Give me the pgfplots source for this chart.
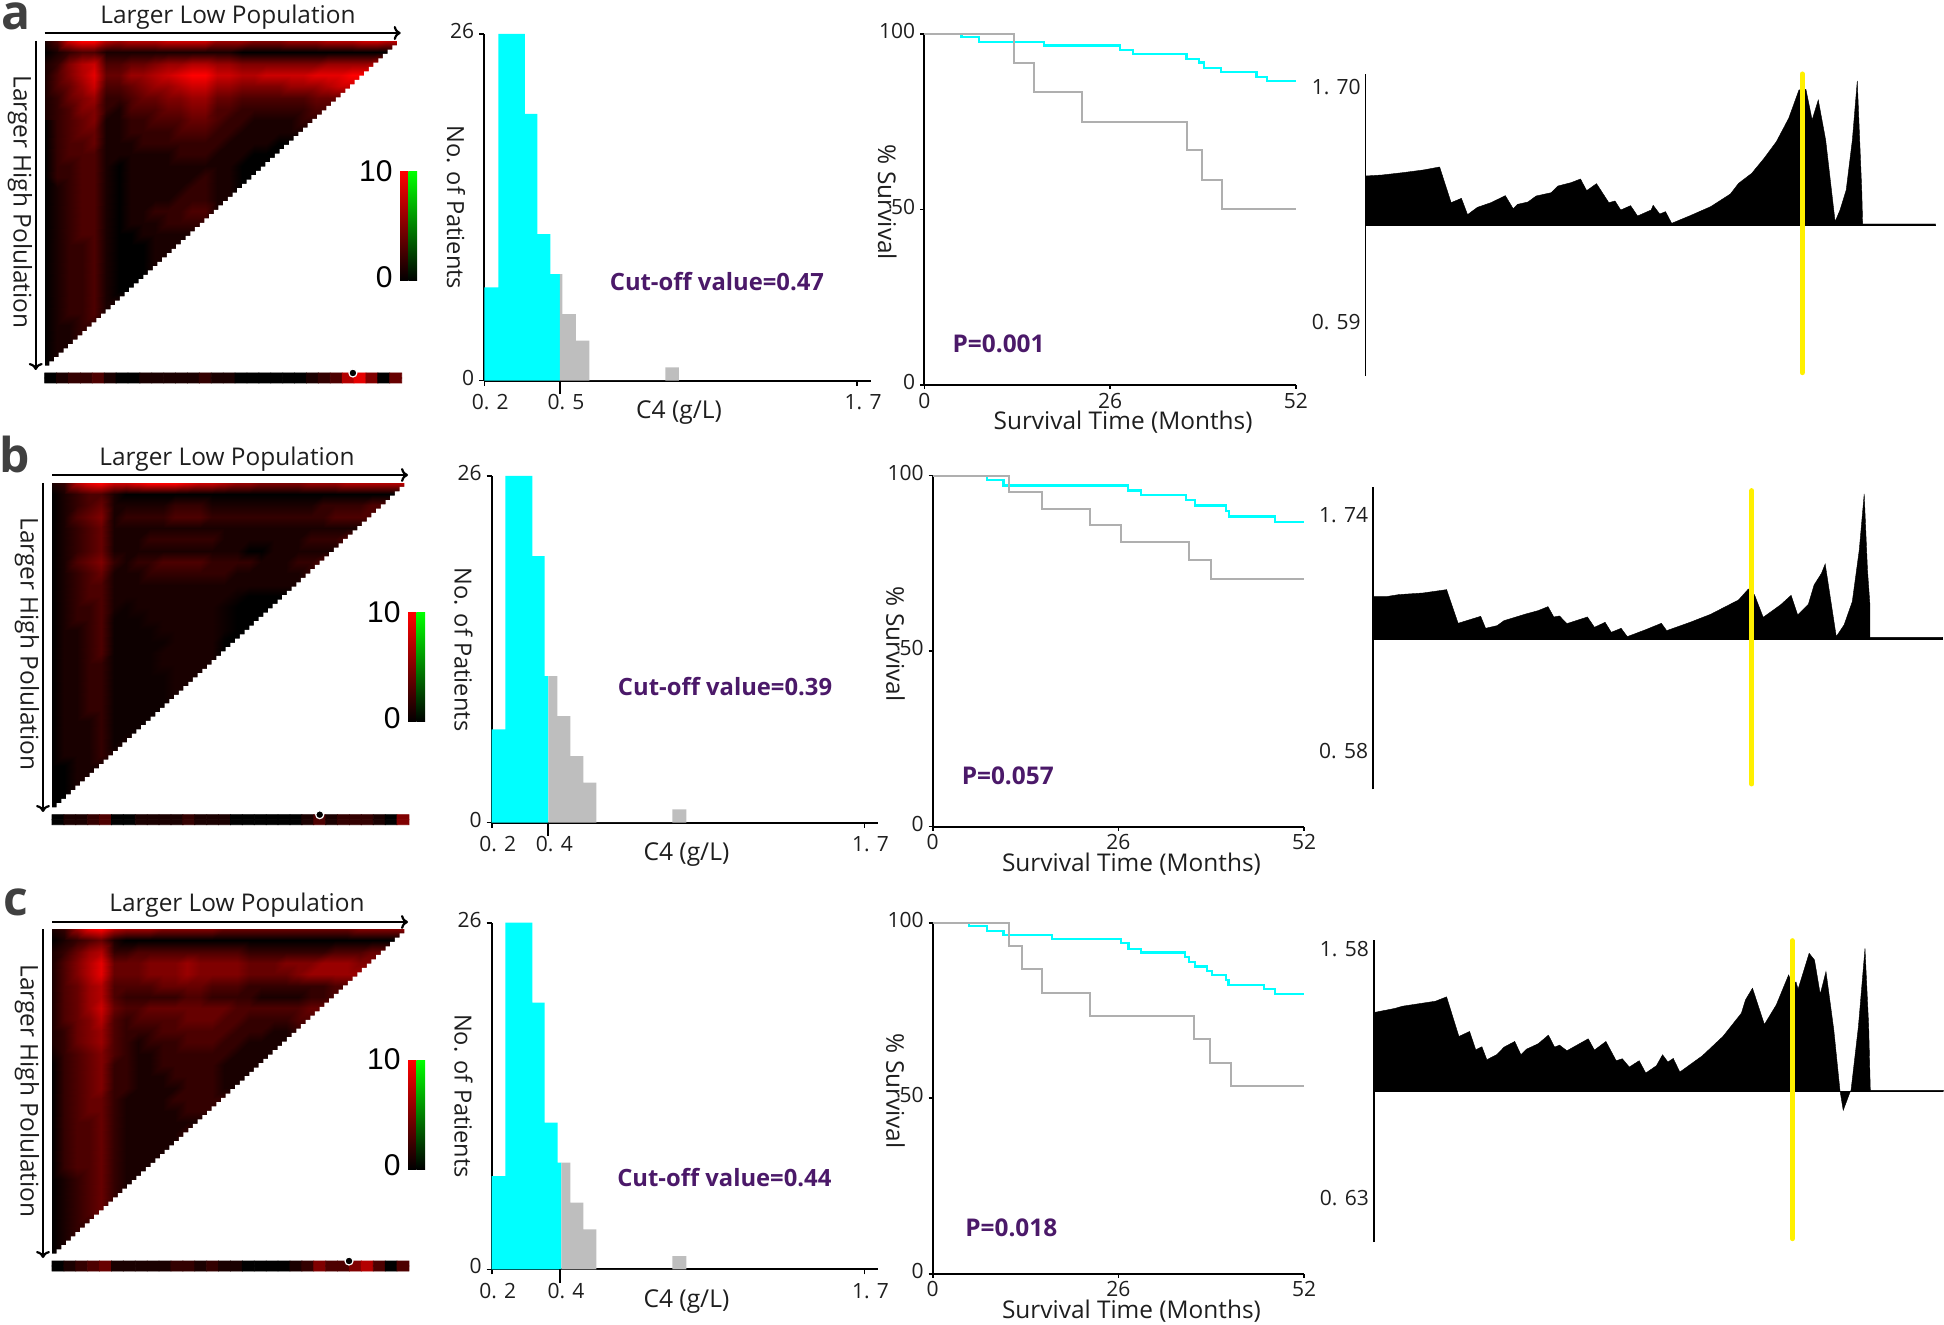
\documentclass[border=0pt]{standalone}
\usepackage{fontspec}
\usepackage{pgfplots}
\usepackage{pgfplotstable}
\pgfplotsset{compat=1.18}
\usetikzlibrary{arrows.meta}
\setmainfont{Open Sans}
\newfontfamily\armo{Liberation Sans}
\definecolor{purp}{RGB}{75,25,105}
\definecolor{cyanb}{RGB}{0,255,255}
\definecolor{greyb}{RGB}{190,190,190}
\definecolor{kmgrey}{RGB}{175,175,175}
\definecolor{yel}{RGB}{255,240,0}
\definecolor{ink}{RGB}{30,30,30}
\pgfplotsset{colormap={blackred}{rgb255=(0,0,0) rgb255=(255,0,0)}}
\newcommand{\tf}{\fontsize{10.5}{12}\selectfont}
\newcommand{\fsz}[1]{\fontsize{#1}{#1}\selectfont}

% heat maps: 30 x 30 cells, row by row
\pgfplotstableread[row sep=crcr,header=false]{
1\\3\\8\\10\\10\\ 7\\6\\7\\7\\7\\ 8\\8\\8\\8\\6\\ 6\\6\\5\\5\\5\\ 6\\6\\6\\7\\7\\ 7\\8\\8\\7\\8\\
0\\1\\2\\3\\3\\ 1\\1\\1\\1\\1\\ 1\\1\\1\\1\\1\\ 1\\0\\0\\0\\0\\ 0\\0\\0\\0\\0\\ 0\\0\\0\\0\\0\\
1\\2\\5\\7\\8\\ 3\\3\\4\\4\\5\\ 6\\6\\7\\7\\6\\ 6\\5\\5\\5\\5\\ 5\\5\\5\\6\\6\\ 6\\6\\7\\0\\0\\
1\\3\\5\\7\\9\\ 4\\4\\6\\6\\7\\ 8\\9\\10\\10\\8\\ 8\\7\\7\\8\\8\\ 8\\8\\9\\9\\9\\ 10\\10\\0\\0\\0\\
1\\3\\4\\6\\8\\ 3\\3\\4\\5\\6\\ 6\\7\\8\\8\\6\\ 6\\5\\5\\5\\5\\ 6\\6\\6\\7\\8\\ 8\\0\\0\\0\\0\\
1\\2\\4\\5\\6\\ 2\\2\\3\\4\\4\\ 5\\5\\6\\6\\4\\ 4\\3\\3\\3\\3\\ 3\\3\\4\\4\\4\\ 0\\0\\0\\0\\0\\
1\\2\\3\\5\\5\\ 2\\1\\3\\3\\3\\ 4\\4\\5\\5\\3\\ 3\\2\\2\\2\\2\\ 2\\2\\3\\3\\0\\ 0\\0\\0\\0\\0\\
1\\2\\3\\4\\5\\ 1\\1\\2\\2\\3\\ 3\\3\\4\\4\\3\\ 2\\2\\1\\1\\1\\ 1\\2\\2\\0\\0\\ 0\\0\\0\\0\\0\\
0\\2\\3\\4\\4\\ 1\\1\\2\\2\\2\\ 2\\3\\3\\3\\2\\ 2\\1\\1\\1\\1\\ 1\\1\\0\\0\\0\\ 0\\0\\0\\0\\0\\
0\\2\\3\\3\\4\\ 1\\1\\1\\2\\2\\ 2\\2\\2\\2\\2\\ 1\\1\\1\\1\\0\\ 0\\0\\0\\0\\0\\ 0\\0\\0\\0\\0\\
0\\2\\3\\3\\3\\ 1\\1\\1\\1\\1\\ 1\\2\\2\\2\\1\\ 1\\1\\0\\0\\0\\ 0\\0\\0\\0\\0\\ 0\\0\\0\\0\\0\\
0\\2\\2\\3\\3\\ 1\\0\\1\\1\\1\\ 1\\1\\1\\1\\1\\ 1\\0\\0\\0\\0\\ 0\\0\\0\\0\\0\\ 0\\0\\0\\0\\0\\
0\\2\\2\\3\\3\\ 1\\0\\1\\1\\1\\ 1\\1\\1\\2\\1\\ 1\\0\\0\\0\\0\\ 0\\0\\0\\0\\0\\ 0\\0\\0\\0\\0\\
0\\1\\2\\3\\3\\ 1\\0\\1\\1\\1\\ 1\\1\\2\\2\\1\\ 1\\0\\0\\0\\0\\ 0\\0\\0\\0\\0\\ 0\\0\\0\\0\\0\\
0\\1\\2\\3\\3\\ 1\\0\\1\\1\\1\\ 1\\2\\2\\2\\1\\ 1\\0\\0\\0\\0\\ 0\\0\\0\\0\\0\\ 0\\0\\0\\0\\0\\
0\\1\\2\\3\\3\\ 1\\0\\1\\1\\2\\ 2\\2\\3\\3\\1\\ 0\\0\\0\\0\\0\\ 0\\0\\0\\0\\0\\ 0\\0\\0\\0\\0\\
0\\1\\2\\3\\3\\ 1\\0\\1\\1\\1\\ 2\\2\\2\\2\\0\\ 0\\0\\0\\0\\0\\ 0\\0\\0\\0\\0\\ 0\\0\\0\\0\\0\\
0\\1\\2\\3\\3\\ 1\\0\\0\\1\\1\\ 1\\1\\1\\0\\0\\ 0\\0\\0\\0\\0\\ 0\\0\\0\\0\\0\\ 0\\0\\0\\0\\0\\
0\\1\\2\\2\\3\\ 1\\0\\0\\0\\1\\ 1\\1\\0\\0\\0\\ 0\\0\\0\\0\\0\\ 0\\0\\0\\0\\0\\ 0\\0\\0\\0\\0\\
0\\1\\2\\2\\3\\ 1\\0\\0\\0\\1\\ 1\\0\\0\\0\\0\\ 0\\0\\0\\0\\0\\ 0\\0\\0\\0\\0\\ 0\\0\\0\\0\\0\\
0\\1\\2\\2\\3\\ 1\\0\\0\\0\\1\\ 0\\0\\0\\0\\0\\ 0\\0\\0\\0\\0\\ 0\\0\\0\\0\\0\\ 0\\0\\0\\0\\0\\
0\\1\\2\\2\\3\\ 1\\0\\0\\0\\0\\ 0\\0\\0\\0\\0\\ 0\\0\\0\\0\\0\\ 0\\0\\0\\0\\0\\ 0\\0\\0\\0\\0\\
0\\1\\2\\2\\3\\ 1\\0\\0\\0\\0\\ 0\\0\\0\\0\\0\\ 0\\0\\0\\0\\0\\ 0\\0\\0\\0\\0\\ 0\\0\\0\\0\\0\\
0\\1\\2\\2\\3\\ 1\\1\\0\\0\\0\\ 0\\0\\0\\0\\0\\ 0\\0\\0\\0\\0\\ 0\\0\\0\\0\\0\\ 0\\0\\0\\0\\0\\
0\\1\\2\\2\\3\\ 1\\0\\0\\0\\0\\ 0\\0\\0\\0\\0\\ 0\\0\\0\\0\\0\\ 0\\0\\0\\0\\0\\ 0\\0\\0\\0\\0\\
0\\1\\1\\2\\2\\ 0\\0\\0\\0\\0\\ 0\\0\\0\\0\\0\\ 0\\0\\0\\0\\0\\ 0\\0\\0\\0\\0\\ 0\\0\\0\\0\\0\\
0\\1\\1\\2\\0\\ 0\\0\\0\\0\\0\\ 0\\0\\0\\0\\0\\ 0\\0\\0\\0\\0\\ 0\\0\\0\\0\\0\\ 0\\0\\0\\0\\0\\
0\\1\\1\\0\\0\\ 0\\0\\0\\0\\0\\ 0\\0\\0\\0\\0\\ 0\\0\\0\\0\\0\\ 0\\0\\0\\0\\0\\ 0\\0\\0\\0\\0\\
0\\1\\0\\0\\0\\ 0\\0\\0\\0\\0\\ 0\\0\\0\\0\\0\\ 0\\0\\0\\0\\0\\ 0\\0\\0\\0\\0\\ 0\\0\\0\\0\\0\\
0\\0\\0\\0\\0\\ 0\\0\\0\\0\\0\\ 0\\0\\0\\0\\0\\ 0\\0\\0\\0\\0\\ 0\\0\\0\\0\\0\\ 0\\0\\0\\0\\0\\
}\hmA
\pgfplotstableread[row sep=crcr,header=false]{
1\\2\\7\\9\\10\\ 8\\8\\9\\10\\10\\ 10\\9\\8\\8\\7\\ 6\\6\\5\\5\\5\\ 5\\6\\6\\6\\7\\ 7\\7\\7\\7\\8\\
0\\1\\2\\3\\3\\ 1\\0\\0\\0\\0\\ 0\\0\\0\\0\\0\\ 0\\0\\0\\0\\0\\ 0\\0\\0\\0\\0\\ 0\\0\\0\\0\\0\\
0\\1\\2\\3\\4\\ 1\\1\\1\\1\\1\\ 2\\2\\2\\1\\1\\ 1\\1\\1\\1\\1\\ 1\\1\\2\\2\\2\\ 2\\3\\3\\0\\0\\
0\\1\\3\\4\\5\\ 1\\2\\2\\2\\2\\ 3\\3\\3\\2\\2\\ 2\\2\\2\\2\\2\\ 2\\2\\2\\3\\3\\ 3\\3\\0\\0\\0\\
0\\1\\2\\3\\4\\ 1\\1\\1\\1\\1\\ 1\\1\\1\\1\\1\\ 1\\1\\1\\1\\1\\ 1\\1\\1\\1\\1\\ 1\\0\\0\\0\\0\\
0\\1\\2\\3\\4\\ 1\\1\\1\\2\\2\\ 2\\2\\2\\2\\1\\ 1\\1\\1\\1\\1\\ 1\\2\\2\\2\\3\\ 0\\0\\0\\0\\0\\
0\\1\\2\\3\\4\\ 1\\1\\1\\1\\1\\ 1\\1\\1\\1\\1\\ 1\\0\\0\\1\\1\\ 1\\1\\1\\1\\0\\ 0\\0\\0\\0\\0\\
0\\1\\3\\4\\5\\ 2\\1\\2\\2\\3\\ 3\\3\\3\\2\\2\\ 2\\2\\1\\1\\1\\ 2\\2\\3\\0\\0\\ 0\\0\\0\\0\\0\\
0\\1\\2\\3\\4\\ 1\\1\\1\\2\\2\\ 2\\2\\2\\2\\2\\ 1\\1\\1\\1\\1\\ 1\\2\\0\\0\\0\\ 0\\0\\0\\0\\0\\
0\\1\\2\\3\\3\\ 1\\1\\1\\1\\1\\ 1\\1\\1\\1\\1\\ 1\\1\\1\\1\\1\\ 1\\0\\0\\0\\0\\ 0\\0\\0\\0\\0\\
0\\1\\2\\3\\3\\ 1\\1\\1\\1\\1\\ 1\\1\\1\\1\\1\\ 0.5\\0\\0\\0\\0\\ 0\\0\\0\\0\\0\\ 0\\0\\0\\0\\0\\
0\\1\\2\\2\\3\\ 1\\0.5\\1\\1\\1\\ 1\\1\\1\\1\\0.5\\ 0\\0\\0\\0\\0\\ 0\\0\\0\\0\\0\\ 0\\0\\0\\0\\0\\
0\\1\\2\\2\\3\\ 0.5\\0.5\\0.5\\1\\1\\ 1\\1\\1\\1\\0.5\\ 0\\0\\0\\0\\0\\ 0\\0\\0\\0\\0\\ 0\\0\\0\\0\\0\\
0\\1\\1\\2\\3\\ 0.5\\0.5\\0.5\\0.5\\1\\ 1\\1\\1\\1\\0.5\\ 0\\0\\0\\0\\0\\ 0\\0\\0\\0\\0\\ 0\\0\\0\\0\\0\\
0\\1\\1\\2\\3\\ 0.5\\0.5\\0.5\\0.5\\0.5\\ 1\\1\\1\\1\\0\\ 0\\0\\0\\0\\0\\ 0\\0\\0\\0\\0\\ 0\\0\\0\\0\\0\\
0\\1\\1\\2\\3\\ 0.5\\0.5\\0.5\\0.5\\1\\ 1\\1\\1\\1\\0\\ 0\\0\\0\\0\\0\\ 0\\0\\0\\0\\0\\ 0\\0\\0\\0\\0\\
0\\1\\1\\2\\2\\ 0.5\\0.5\\0.5\\0.5\\1\\ 1\\1\\1\\1\\0\\ 0\\0\\0\\0\\0\\ 0\\0\\0\\0\\0\\ 0\\0\\0\\0\\0\\
0\\1\\1\\2\\2\\ 0.5\\0.5\\0.5\\0.5\\0.5\\ 1\\1\\1\\0\\0\\ 0\\0\\0\\0\\0\\ 0\\0\\0\\0\\0\\ 0\\0\\0\\0\\0\\
0\\1\\1\\2\\2\\ 0.5\\0.5\\0.5\\0.5\\0.5\\ 1\\1\\0\\0\\0\\ 0\\0\\0\\0\\0\\ 0\\0\\0\\0\\0\\ 0\\0\\0\\0\\0\\
0\\1\\1\\2\\2\\ 0.5\\0.5\\0.5\\0.5\\0.5\\ 1\\0\\0\\0\\0\\ 0\\0\\0\\0\\0\\ 0\\0\\0\\0\\0\\ 0\\0\\0\\0\\0\\
0\\1\\1\\2\\2\\ 0.5\\0.5\\0.5\\0.5\\0.5\\ 0\\0\\0\\0\\0\\ 0\\0\\0\\0\\0\\ 0\\0\\0\\0\\0\\ 0\\0\\0\\0\\0\\
0\\1\\1\\1\\2\\ 0.5\\0.5\\0.5\\0.5\\0\\ 0\\0\\0\\0\\0\\ 0\\0\\0\\0\\0\\ 0\\0\\0\\0\\0\\ 0\\0\\0\\0\\0\\
0\\1\\1\\1\\2\\ 0.5\\0.5\\0.5\\0\\0\\ 0\\0\\0\\0\\0\\ 0\\0\\0\\0\\0\\ 0\\0\\0\\0\\0\\ 0\\0\\0\\0\\0\\
0\\1\\1\\1\\2\\ 0.5\\1\\0\\0\\0\\ 0\\0\\0\\0\\0\\ 0\\0\\0\\0\\0\\ 0\\0\\0\\0\\0\\ 0\\0\\0\\0\\0\\
0\\1\\1\\1\\2\\ 1\\0\\0\\0\\0\\ 0\\0\\0\\0\\0\\ 0\\0\\0\\0\\0\\ 0\\0\\0\\0\\0\\ 0\\0\\0\\0\\0\\
0\\0\\1\\1\\1\\ 0\\0\\0\\0\\0\\ 0\\0\\0\\0\\0\\ 0\\0\\0\\0\\0\\ 0\\0\\0\\0\\0\\ 0\\0\\0\\0\\0\\
0\\0\\1\\1\\0\\ 0\\0\\0\\0\\0\\ 0\\0\\0\\0\\0\\ 0\\0\\0\\0\\0\\ 0\\0\\0\\0\\0\\ 0\\0\\0\\0\\0\\
0\\0\\1\\0\\0\\ 0\\0\\0\\0\\0\\ 0\\0\\0\\0\\0\\ 0\\0\\0\\0\\0\\ 0\\0\\0\\0\\0\\ 0\\0\\0\\0\\0\\
0\\0\\0\\0\\0\\ 0\\0\\0\\0\\0\\ 0\\0\\0\\0\\0\\ 0\\0\\0\\0\\0\\ 0\\0\\0\\0\\0\\ 0\\0\\0\\0\\0\\
0\\0\\0\\0\\0\\ 0\\0\\0\\0\\0\\ 0\\0\\0\\0\\0\\ 0\\0\\0\\0\\0\\ 0\\0\\0\\0\\0\\ 0\\0\\0\\0\\0\\
}\hmB
\pgfplotstableread[row sep=crcr,header=false]{
1\\2\\6\\9\\10\\ 7\\6\\6\\6\\5\\ 5\\5\\5\\5\\4\\ 4\\4\\4\\4\\4\\ 4\\4\\4\\4\\4\\ 5\\5\\5\\5\\6\\
0\\1\\2\\3\\4\\ 1\\0\\0\\0\\0\\ 0\\0\\0\\0\\0\\ 0\\0\\0\\0\\0\\ 0\\0\\0\\0\\0\\ 0\\0\\0\\0\\0\\
1\\2\\4\\6\\7\\ 2\\2\\3\\3\\3\\ 3\\3\\3\\3\\3\\ 3\\2\\2\\2\\2\\ 2\\2\\2\\3\\3\\ 3\\4\\4\\0\\0\\
1\\3\\5\\7\\9\\ 4\\4\\4\\5\\5\\ 5\\6\\5\\5\\5\\ 5\\4\\4\\4\\5\\ 5\\5\\6\\6\\6\\ 5\\5\\0\\0\\0\\
1\\3\\5\\7\\9\\ 4\\4\\4\\5\\5\\ 5\\6\\5\\5\\5\\ 5\\4\\4\\4\\4\\ 5\\6\\6\\6\\6\\ 6\\0\\0\\0\\0\\
1\\3\\4\\6\\7\\ 3\\3\\3\\3\\4\\ 4\\4\\4\\3\\3\\ 3\\2\\2\\2\\2\\ 2\\2\\2\\3\\3\\ 0\\0\\0\\0\\0\\
1\\3\\4\\6\\7\\ 3\\2\\2\\2\\2\\ 2\\3\\3\\2\\2\\ 2\\2\\1\\1\\1\\ 1\\2\\2\\3\\0\\ 0\\0\\0\\0\\0\\
1\\3\\4\\6\\8\\ 4\\3\\3\\4\\4\\ 4\\4\\4\\4\\4\\ 3\\3\\3\\3\\3\\ 3\\4\\4\\0\\0\\ 0\\0\\0\\0\\0\\
1\\3\\4\\5\\7\\ 3\\2\\3\\3\\3\\ 3\\4\\4\\4\\3\\ 3\\2\\2\\2\\2\\ 3\\3\\0\\0\\0\\ 0\\0\\0\\0\\0\\
1\\2\\4\\5\\6\\ 3\\2\\2\\2\\3\\ 3\\3\\3\\3\\3\\ 2\\2\\2\\1\\1\\ 2\\0\\0\\0\\0\\ 0\\0\\0\\0\\0\\
1\\2\\4\\5\\6\\ 3\\2\\1\\2\\2\\ 2\\3\\3\\3\\2\\ 2\\1\\1\\1\\1\\ 0\\0\\0\\0\\0\\ 0\\0\\0\\0\\0\\
1\\2\\3\\4\\5\\ 3\\2\\1\\1\\2\\ 2\\2\\2\\2\\2\\ 1\\1\\1\\1\\0\\ 0\\0\\0\\0\\0\\ 0\\0\\0\\0\\0\\
0\\2\\3\\4\\5\\ 2\\2\\1\\1\\2\\ 2\\2\\2\\2\\1\\ 1\\1\\1\\0\\0\\ 0\\0\\0\\0\\0\\ 0\\0\\0\\0\\0\\
0\\2\\3\\4\\5\\ 2\\2\\1\\1\\1\\ 2\\2\\2\\2\\1\\ 1\\1\\0\\0\\0\\ 0\\0\\0\\0\\0\\ 0\\0\\0\\0\\0\\
0\\2\\3\\4\\5\\ 2\\2\\1\\1\\1\\ 1\\2\\2\\2\\1\\ 1\\0\\0\\0\\0\\ 0\\0\\0\\0\\0\\ 0\\0\\0\\0\\0\\
0\\2\\3\\4\\4\\ 2\\1\\1\\1\\1\\ 2\\2\\2\\2\\2\\ 0\\0\\0\\0\\0\\ 0\\0\\0\\0\\0\\ 0\\0\\0\\0\\0\\
0\\2\\3\\4\\4\\ 2\\1\\1\\1\\1\\ 1\\2\\2\\2\\0\\ 0\\0\\0\\0\\0\\ 0\\0\\0\\0\\0\\ 0\\0\\0\\0\\0\\
0\\2\\3\\3\\4\\ 2\\1\\1\\1\\1\\ 1\\1\\1\\0\\0\\ 0\\0\\0\\0\\0\\ 0\\0\\0\\0\\0\\ 0\\0\\0\\0\\0\\
0\\2\\3\\3\\4\\ 2\\1\\1\\1\\1\\ 1\\2\\0\\0\\0\\ 0\\0\\0\\0\\0\\ 0\\0\\0\\0\\0\\ 0\\0\\0\\0\\0\\
0\\2\\3\\3\\4\\ 2\\1\\1\\1\\1\\ 1\\0\\0\\0\\0\\ 0\\0\\0\\0\\0\\ 0\\0\\0\\0\\0\\ 0\\0\\0\\0\\0\\
0\\2\\3\\3\\4\\ 2\\1\\1\\1\\1\\ 0\\0\\0\\0\\0\\ 0\\0\\0\\0\\0\\ 0\\0\\0\\0\\0\\ 0\\0\\0\\0\\0\\
0\\2\\3\\3\\4\\ 2\\1\\1\\1\\0\\ 0\\0\\0\\0\\0\\ 0\\0\\0\\0\\0\\ 0\\0\\0\\0\\0\\ 0\\0\\0\\0\\0\\
0\\1\\2\\3\\4\\ 2\\1\\1\\0\\0\\ 0\\0\\0\\0\\0\\ 0\\0\\0\\0\\0\\ 0\\0\\0\\0\\0\\ 0\\0\\0\\0\\0\\
0\\1\\2\\3\\4\\ 2\\1\\0\\0\\0\\ 0\\0\\0\\0\\0\\ 0\\0\\0\\0\\0\\ 0\\0\\0\\0\\0\\ 0\\0\\0\\0\\0\\
0\\1\\2\\3\\4\\ 2\\0\\0\\0\\0\\ 0\\0\\0\\0\\0\\ 0\\0\\0\\0\\0\\ 0\\0\\0\\0\\0\\ 0\\0\\0\\0\\0\\
0\\1\\2\\3\\4\\ 0\\0\\0\\0\\0\\ 0\\0\\0\\0\\0\\ 0\\0\\0\\0\\0\\ 0\\0\\0\\0\\0\\ 0\\0\\0\\0\\0\\
0\\1\\2\\2\\0\\ 0\\0\\0\\0\\0\\ 0\\0\\0\\0\\0\\ 0\\0\\0\\0\\0\\ 0\\0\\0\\0\\0\\ 0\\0\\0\\0\\0\\
0\\1\\2\\0\\0\\ 0\\0\\0\\0\\0\\ 0\\0\\0\\0\\0\\ 0\\0\\0\\0\\0\\ 0\\0\\0\\0\\0\\ 0\\0\\0\\0\\0\\
0\\1\\0\\0\\0\\ 0\\0\\0\\0\\0\\ 0\\0\\0\\0\\0\\ 0\\0\\0\\0\\0\\ 0\\0\\0\\0\\0\\ 0\\0\\0\\0\\0\\
0\\0\\0\\0\\0\\ 0\\0\\0\\0\\0\\ 0\\0\\0\\0\\0\\ 0\\0\\0\\0\\0\\ 0\\0\\0\\0\\0\\ 0\\0\\0\\0\\0\\
}\hmC
% strips under the maps (two identical rows of 30)
\pgfplotstableread[row sep=crcr,header=false]{
0\\1\\2\\2\\3\\ 1\\0\\0\\1\\1\\ 1\\1\\1\\2\\1\\ 1\\0\\0\\0\\0\\ 0\\0\\1\\2\\3\\ 7\\9\\5\\0\\4\\
0\\1\\2\\2\\3\\ 1\\0\\0\\1\\1\\ 1\\1\\1\\2\\1\\ 1\\0\\0\\0\\0\\ 0\\0\\1\\2\\3\\ 7\\9\\5\\0\\4\\
}\stA
\pgfplotstableread[row sep=crcr,header=false]{
0\\1\\1\\2\\3\\ 0\\0\\1\\1\\1\\ 1\\2\\1\\1\\1\\ 0\\0\\0\\0\\0\\ 0\\1\\3\\1\\2\\ 2\\2\\1\\0\\5\\
0\\1\\1\\2\\3\\ 0\\0\\1\\1\\1\\ 1\\2\\1\\1\\1\\ 0\\0\\0\\0\\0\\ 0\\1\\3\\1\\2\\ 2\\2\\1\\0\\5\\
}\stB
\pgfplotstableread[row sep=crcr,header=false]{
0\\1\\2\\3\\4\\ 1\\1\\1\\1\\1\\ 2\\2\\1\\2\\1\\ 1\\0\\0\\0\\0\\ 1\\2\\5\\3\\3\\ 5\\7\\3\\0\\3\\
0\\1\\2\\3\\4\\ 1\\1\\1\\1\\1\\ 2\\2\\1\\2\\1\\ 1\\0\\0\\0\\0\\ 1\\2\\5\\3\\3\\ 5\\7\\3\\0\\3\\
}\stC
% a running number for each cell gives its column and row
\pgfplotstablecreatecol[expr={\pgfplotstablerow}]{i}\hmA
\pgfplotstablecreatecol[expr={\pgfplotstablerow}]{i}\hmB
\pgfplotstablecreatecol[expr={\pgfplotstablerow}]{i}\hmC
\pgfplotstablecreatecol[expr={\pgfplotstablerow}]{i}\stA
\pgfplotstablecreatecol[expr={\pgfplotstablerow}]{i}\stB
\pgfplotstablecreatecol[expr={\pgfplotstablerow}]{i}\stC
% white stepped edge of the triangle
\pgfplotstableread{
x y
-0.50 29.11
-0.11 28.71
0.29 28.32
0.68 27.92
1.08 27.53
1.47 27.13
1.87 26.74
2.26 26.34
2.66 25.95
3.05 25.55
3.45 25.16
3.84 24.76
4.24 24.37
4.63 23.97
5.03 23.58
5.42 23.18
5.82 22.79
6.21 22.39
6.60 22.00
7.00 21.61
7.39 21.21
7.79 20.82
8.18 20.42
8.58 20.03
8.97 19.63
9.37 19.24
9.76 18.84
10.16 18.45
10.55 18.05
10.95 17.66
11.34 17.26
11.74 16.87
12.13 16.47
12.53 16.08
12.92 15.68
13.32 15.29
13.71 14.89
14.10 14.50
14.50 14.11
14.89 13.71
15.29 13.32
15.68 12.92
16.08 12.53
16.47 12.13
16.87 11.74
17.26 11.34
17.66 10.95
18.05 10.55
18.45 10.16
18.84 9.76
19.24 9.37
19.63 8.97
20.03 8.58
20.42 8.18
20.82 7.79
21.21 7.39
21.60 7.00
22.00 6.61
22.39 6.21
22.79 5.82
23.18 5.42
23.58 5.03
23.97 4.63
24.37 4.24
24.76 3.84
25.16 3.45
25.55 3.05
25.95 2.66
26.34 2.26
26.74 1.87
27.13 1.47
27.53 1.08
27.92 0.68
28.32 0.29
28.71 -0.11
29.11 -0.50
30.00 -0.50
30.00 30.00
-0.50 30.00
}\stair

% histograms
\pgfplotstableread{
x n
0.2 7
0.2563 26
0.3636 20
0.4133 11
0.4656 8
0.5045 0
}\hAc
\pgfplotstableread{
x n
0.5045 8
0.5139 5
0.5689 3
0.6225 0
0.9284 1
0.9834 0
}\hAg
\pgfplotstableread{
x n
0.2 7
0.255 26
0.3636 20
0.4133 11
0.428 0
}\hBc
\pgfplotstableread{
x n
0.428 11
0.4642 8
0.5166 5
0.5689 3
0.6212 0
0.927 1
0.9834 0
}\hBg
\pgfplotstableread{
x n
0.2 7
0.255 26
0.3636 20
0.4133 11
0.4656 8
0.4803 0
}\hCc
\pgfplotstableread{
x n
0.4803 8
0.5166 5
0.5689 3
0.6212 0
0.927 1
0.9834 0
}\hCg

% survival curves
\pgfplotstableread{
t s
0 100
5.2 99.05
7.7 97.7
16.7 96.7
27.4 95.4
29.2 94.2
36.7 92.9
38.5 91.9
39.2 90.3
41.5 89.1
46.5 87.7
48 86.7
52 86.7
}\kAc
\pgfplotstableread{
t s
0 100
12.55 91.7
15.3 83.5
22.1 75
36.75 66.9
38.9 58.5
41.7 50.2
52 50.2
}\kAg
\pgfplotstableread{
t s
0 100
7.56 98.8
9.9 97.2
27.3 95.8
29.1 94.4
35.5 93
36.7 91.5
41 90
41.5 88.4
47.9 86.9
52 86.9
}\kBc
\pgfplotstableread{
t s
0 100
10.7 95.3
15.3 90.6
22 85.9
26.4 81.1
35.9 76.1
38.9 70.6
52 70.6
}\kBg
\pgfplotstableread{
t s
0 100
5.1 99.1
7.6 97.6
9.9 96.4
16.7 95.3
26.4 94.2
27.4 92.6
29.1 91.5
35.3 90.3
35.9 88.8
36.7 87.5
38.4 86.3
39.1 85
41 83.7
41.4 82.3
46.4 81.2
47.9 79.6
52 79.6
}\kCc
\pgfplotstableread{
t s
0 100
10.7 93.4
12.5 86.7
15.3 80.1
22 73.4
36.6 66.8
38.8 60.1
41.7 53.6
52 53.6
}\kCg

% running curves
\pgfplotstableread{
x h
160 0
160 149
200 152
250 159
300 167
340 176
368 69
393 82
408 33
432 55
465 69
500 90
519 51
530 64
555 71
575 89
612 99
628 119
660 129
683 140
698 105
722 126
752 69
767 74
781 47
805 60
822 29
855 47
860 61
876 35
890 42
905 7
950 30
1000 57
1048 95
1068 127
1100 157
1130 202
1160 252
1190 322
1215 407
1232 409
1247 317
1262 377
1280 257
1303 12
1315 47
1330 107
1345 257
1357 434
1368 102
1370 5
1548 5
1548 0
}\wA
\pgfplotstableread{
x h
178 0
178 127
210 127
240 133
300 138
357 148
385 47
440 68
452 32
480 40
497 55
550 75
580 85
604 97
618 66
632 69
650 46
700 66
717 35
743 50
758 20
782 32
797 7
840 27
880 47
893 25
950 50
1000 74
1068 117
1092 150
1107 132
1128 65
1170 102
1196 131
1212 72
1238 104
1252 162
1270 197
1279 225
1306 7
1325 42
1345 112
1362 267
1374 435
1382 207
1388 102
1388 5
1565 5
1565 0
}\wB
\pgfplotstableread{
x h
180 0
180 238
230 250
250 257
330 272
357 285
387 166
413 181
428 126
443 135
455 96
480 112
497 134
523 151
538 111
552 128
580 144
605 170
620 134
632 140
650 123
702 159
717 125
745 151
770 93
785 99
802 74
826 93
842 56
868 78
883 111
896 89
909 100
925 59
980 108
1030 166
1075 236
1085 276
1102 311
1131 202
1160 261
1190 351
1200 321
1208 330
1213 308
1240 416
1253 396
1267 293
1281 361
1300 186
1315 4
1323 -56
1340 0
1342 4
1360 196
1376 431
1385 196
1389 4
1567 4
1567 0
}\wC

% #1 x, #2 y, #3 table, #4 strip, #5 dot column
\newcommand{\heat}[5]{%
\begin{axis}[scale only axis,anchor=north west,at={(#1*0.5pt,-#2*0.5pt)},width=178.5pt,height=164.5pt,
  hide axis,clip=false,xmin=-0.5,xmax=29.5,ymin=-0.5,ymax=29.5,y dir=reverse,colormap name=blackred,
  point meta min=0,point meta max=10]
\addplot[surf,shader=interp,mesh/cols=30,point meta=explicit] table[x expr={mod(\thisrow{i},30)*30/29-0.5},y expr={floor(\thisrow{i}/30)*30/29-0.5},meta index=0] {#3};
\addplot[const plot,fill=white,draw=none] table[x=x,y=y] {\stair};
\end{axis}
\begin{axis}[scale only axis,anchor=north west,at={(#1*0.5pt,-#2*0.5pt-332*0.5pt)},width=178.5pt,height=5pt,
  hide axis,clip=false,xmin=-0.5,xmax=29.5,ymin=-0.5,ymax=1.5,colormap name=blackred,
  point meta min=0,point meta max=10]
\addplot[matrix plot*,mesh/cols=30,point meta=explicit] table[x expr={mod(\thisrow{i},30)},y expr={floor(\thisrow{i}/30)},meta index=0] {#4};
\addplot[only marks,mark=*,mark size=2pt,mark options={fill=black,draw=white,line width=0.6pt}] coordinates {(#5,1.5)};
\end{axis}}

% #1 x, #2 y, #3 second tick, #4 its label, #5 cyan, #6 grey, #7 text x, #8 text y, #9 cut-off
\newcommand{\hist}[9]{%
\begin{axis}[scale only axis,anchor=north west,at={(#1*0.5pt,-#2*0.5pt)},width=193.35pt,height=173.35pt,
  xmin=0.2,xmax=1.756,ymin=0,ymax=26,axis lines=left,axis line style={-,black,line width=1.1pt},clip=false,
  xtick={0.2,#3,1.7},xticklabels={0. 2,#4,1. 7},ytick={0,26},yticklabels={0,26},
  tick align=outside,major tick length=2.5pt,tick style={black,line width=0.8pt},
  xticklabel style={font=\tf,text=ink,xshift=3pt,yshift=-1pt},yticklabel style={font=\tf,text=ink,yshift=1.5pt,xshift=1pt},
  xlabel={C4 (g/L)},ylabel={No. of Patients},
  every axis x label/.style={at={(axis description cs:0.5035,-0.093)},anchor=center,font=\fsz{12.3},text=ink},
  every axis y label/.style={at={(axis description cs:-0.073,0.5)},anchor=center,rotate=-90,font=\fsz{11.8},text=ink}]
\addplot[ybar interval,fill=cyanb,draw=none] table[x=x,y=n] {#5};
\addplot[ybar interval,fill=greyb,draw=none] table[x=x,y=n] {#6};
\addplot[black,line width=0.9pt] coordinates {(#3,0) (#3,-1)};
\node[font=\fsz{11.9}\bfseries,text=purp] at (axis cs:#7,#8) {Cut-off value=#9};
\end{axis}}

% #1 x, #2 y, #3 cyan, #4 grey, #5 text x, #6 text y, #7 P
\newcommand{\km}[7]{%
\begin{axis}[scale only axis,anchor=north west,at={(#1*0.5pt,-#2*0.5pt)},width=185.75pt,height=175.5pt,
  xmin=0,xmax=52,ymin=0,ymax=100,axis lines=left,axis line style={-,black,line width=1.1pt},clip=false,
  xtick={0,26,52},ytick={0,50,100},xticklabels={0,26,52},yticklabels={0,50,100},
  tick align=outside,major tick length=2pt,tick style={black,line width=0.8pt},
  xticklabel style={font=\tf,text=ink,yshift=1.5pt},yticklabel style={font=\tf,text=ink,yshift=1.5pt,xshift=1pt},
  xlabel={Survival Time (Months)},ylabel={\% Survival},
  every axis x label/.style={at={(axis description cs:0.535,-0.106)},anchor=center,font=\fsz{12.2},text=ink},
  every axis y label/.style={at={(axis description cs:-0.1,0.52)},anchor=center,rotate=-90,font=\fsz{12.2},text=ink}]
\addplot[const plot,cyanb,line width=1.1pt] table[x=t,y=s] {#3};
\addplot[const plot,kmgrey,line width=1pt] table[x=t,y=s] {#4};
\node[font=\fsz{12.2}\bfseries,text=purp] at (axis cs:#5,#6) {P=#7};
\end{axis}}

\begin{document}
\begin{tikzpicture}
\useasboundingbox (0,0) rectangle (972pt,-662.5pt);
\heat{44.7}{41}{\hmA}{\stA}{25.4}
\heat{52}{482.7}{\hmB}{\stB}{22}
\heat{52}{929}{\hmC}{\stC}{24.46}
\hist{484.3}{34}{0.5045}{0. 5}{\hAc}{\hAg}{1.136}{7.4}{0.47}
\hist{491.7}{476}{0.428}{0. 4}{\hBc}{\hBg}{1.139}{10.18}{0.39}
\hist{491.7}{922.7}{0.475}{0. 4}{\hCc}{\hCg}{1.136}{6.92}{0.44}
\km{924.3}{34}{\kAc}{\kAg}{10.4}{11.7}{0.001}
\km{932.7}{475.7}{\kBc}{\kBg}{10.5}{14.4}{0.057}
\km{932.7}{922.7}{\kCc}{\kCg}{11}{13.1}{0.018}
\begin{axis}[scale only axis,anchor=north west,at={(1365.7*0.5pt,-74*0.5pt)},width=285pt,height=151pt,
  xmin=160,xmax=1548,ymin=-451,ymax=455,axis y line=left,axis x line=middle,axis line style={-,black,line width=0.7pt},
  clip=false,xtick=\empty,major tick length=0pt,yticklabel style={font=\tf,text=ink,xshift=1pt},
  ytick={417,-288},yticklabels={1. 70,0. 59}]
\addplot[fill=black,draw=black,line width=0.2pt] table[x=x,y=h] {\wA};
\addplot[yel,line width=2.5pt,line cap=round] coordinates {(1223,455) (1223,-441)};
\end{axis}
\begin{axis}[scale only axis,anchor=north west,at={(1373.1*0.5pt,-487.3*0.5pt)},width=284.75pt,height=151pt,
  xmin=178,xmax=1565,ymin=-451,ymax=455,axis y line=left,axis x line=middle,axis line style={-,black,line width=0.7pt},
  clip=false,xtick=\empty,major tick length=0pt,yticklabel style={font=\tf,text=ink,xshift=1pt},
  ytick={372,-335},yticklabels={1. 74,0. 58}]
\addplot[fill=black,draw=black,line width=0.2pt] table[x=x,y=h] {\wB};
\addplot[yel,line width=2.5pt,line cap=round] coordinates {(1100,445) (1100,-435)};
\end{axis}
\begin{axis}[scale only axis,anchor=north west,at={(1373.9*0.5pt,-940*0.5pt)},width=284.75pt,height=151pt,
  xmin=180,xmax=1567,ymin=-452,ymax=456,axis y line=left,axis x line=middle,axis line style={-,black,line width=0.7pt},
  clip=false,xtick=\empty,major tick length=0pt,yticklabel style={font=\tf,text=ink,xshift=1pt},
  ytick={428,-319},yticklabels={1. 58,0. 63}]
\addplot[fill=black,draw=black,line width=0.2pt] table[x=x,y=h] {\wC};
\addplot[yel,line width=2.5pt,line cap=round] coordinates {(1199,454) (1199,-442)};
\end{axis}
% titles, arrows, colour bars
\foreach \tx/\ty/\ax/\ay/\lx/\ly/\bx/\by/\hh in {228/17/44.7/33/20/202/400/172/41, 227/459/52/475/27/644/408/613/483, 237/905/52/922/27/1091/408/1060/929}{
  \node[font=\fsz{12.2},text=ink] at (\tx*0.5pt,-\ty*0.5pt) {Larger Low Population};
  \draw[-{To[length=3.5pt,width=7pt]},line width=1.1pt] (\ax*0.5pt,-\ay*0.5pt) -- ({(\ax+356)*0.5pt},-\ay*0.5pt);
  \draw[-{To[length=3.5pt,width=7pt]},line width=1.1pt] ({(\ax-9)*0.5pt},-\hh*0.5pt) -- ({(\ax-9)*0.5pt},{-(\hh+329)*0.5pt});
  \node[font=\fsz{12.2},text=ink,rotate=-90] at (\lx*0.5pt,-\ly*0.5pt) {Larger High Polulation};
  \shade[bottom color=black,top color=red] (\bx*0.5pt,-\by*0.5pt) rectangle ({(\bx+8.5)*0.5pt},{-(\by+109)*0.5pt});
  \shade[bottom color=black,top color=green] ({(\bx+8.5)*0.5pt},-\by*0.5pt) rectangle ({(\bx+17)*0.5pt},{-(\by+109)*0.5pt});
  \node[font=\armo\fsz{15},anchor=east,inner sep=0pt] at ({(\bx-7)*0.5pt},{-(\by-1)*0.5pt}) {10};
  \node[font=\armo\fsz{15},anchor=east,inner sep=0pt] at ({(\bx-7)*0.5pt},{-(\by+105)*0.5pt}) {0};
}
\node[font=\fsz{24}\bfseries,text=ink!85!white,inner sep=0pt] at (16*0.5pt,-16*0.5pt) {a};
\node[font=\fsz{24}\bfseries,text=ink!85!white,inner sep=0pt] at (15*0.5pt,-455*0.5pt) {b};
\node[font=\fsz{24}\bfseries,text=ink!85!white,inner sep=0pt] at (16*0.5pt,-902*0.5pt) {c};
\end{tikzpicture}
\end{document}
